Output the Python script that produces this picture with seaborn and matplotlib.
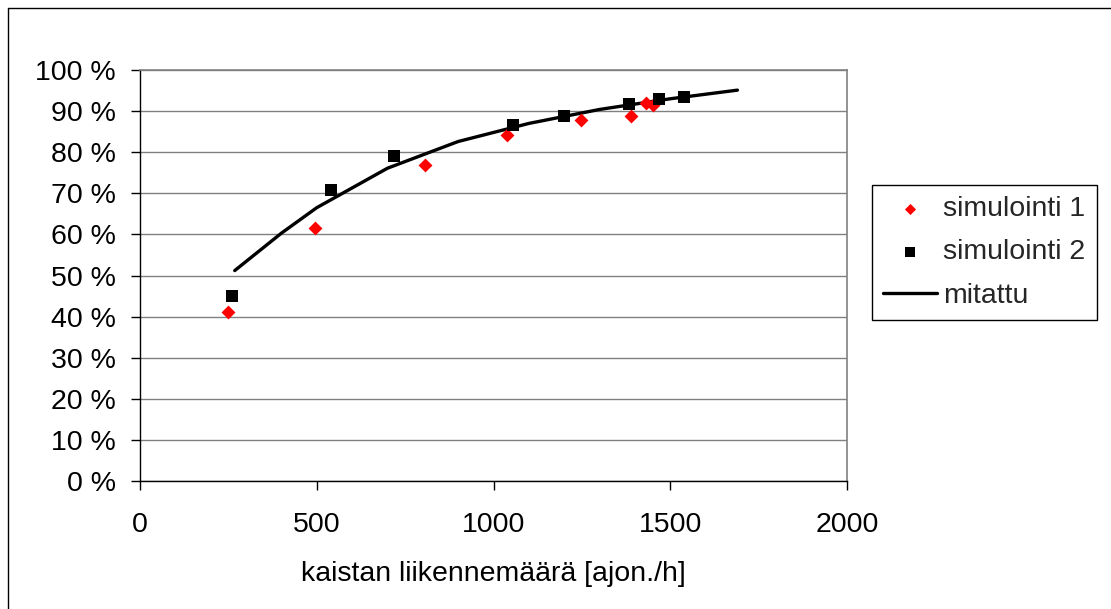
import matplotlib
matplotlib.use("Agg")
import matplotlib.pyplot as plt
from matplotlib.lines import Line2D
from matplotlib.ticker import FuncFormatter, MultipleLocator
import seaborn as sns
import pandas as pd

# ---- data ----
sim1_x = [248, 495, 805, 1037, 1248, 1390, 1431, 1451]
sim1_y = [41.0, 61.6, 77.0, 84.1, 87.8, 88.7, 92.0, 91.5]

sim2_x = [260, 540, 718, 1056, 1199, 1383, 1467, 1540]
sim2_y = [45.0, 70.8, 79.1, 86.7, 88.9, 91.7, 93.0, 93.5]

meas_x = [268, 400, 500, 700, 900, 1100, 1300, 1500, 1690]
meas_y = [51.2, 60.3, 66.5, 76.1, 82.6, 87.0, 90.4, 93.0, 95.1]

labels = ["simulointi 1", "simulointi 2", "mitattu"]
xlabel = "kaistan liikennemäärä [ajon./h]"

sns.set_style("white")
plt.rcParams["font.family"] = ["Liberation Sans", "DejaVu Sans"]

FS = 20.5
W, H = 1111, 609
fig = plt.figure(figsize=(W / 100, H / 100), dpi=100)
ax = fig.add_axes([140 / W, 1 - 481 / H, (847 - 140) / W, (481 - 70) / H])

df1 = pd.DataFrame({"x": sim1_x, "y": sim1_y})
df2 = pd.DataFrame({"x": sim2_x, "y": sim2_y})
dfm = pd.DataFrame({"x": meas_x, "y": meas_y})

sns.lineplot(data=dfm, x="x", y="y", ax=ax, color="black", lw=2.4,
             label=labels[2], zorder=3)
sns.scatterplot(data=df1, x="x", y="y", ax=ax, marker="D", s=50, color="#ff0000",
                linewidth=0, label=labels[0], zorder=4)
sns.scatterplot(data=df2, x="x", y="y", ax=ax, marker="s", s=70, color="black",
                linewidth=0, label=labels[1], zorder=5)

ax.set_xlim(0, 2000)
ax.set_ylim(0, 100)
ax.xaxis.set_major_locator(MultipleLocator(500))
ax.yaxis.set_major_locator(MultipleLocator(10))
ax.yaxis.set_major_formatter(FuncFormatter(lambda v, p: f"{int(round(v))} %"))

ax.grid(True, axis="y", color="#808080", lw=1.0)
ax.set_axisbelow(True)
for side in ["top", "right"]:
    ax.spines[side].set_color("#808080")
    ax.spines[side].set_linewidth(1.2)
for side in ["left", "bottom"]:
    ax.spines[side].set_color("black")
    ax.spines[side].set_linewidth(1.0)

ax.tick_params(axis="both", which="major", labelsize=FS, colors="black",
               direction="out", length=6.5, width=1.0, left=True, bottom=True)
ax.tick_params(axis="y", pad=11)
ax.tick_params(axis="x", pad=16)

ax.set_xlabel(xlabel, fontsize=FS, color="black")
ax.xaxis.set_label_coords(0.5, -0.195)
ax.set_ylabel("")

# legend in order sim1, sim2, measured
handles, labs = ax.get_legend_handles_labels()
order = [labs.index(l) for l in labels]
leg = ax.legend([handles[i] for i in order], [labs[i] for i in order],
                loc="upper left", bbox_to_anchor=(872 / W, 1 - 185 / H),
                bbox_transform=fig.transFigure, fontsize=FS, frameon=True,
                fancybox=False, shadow=False, framealpha=1, edgecolor="black",
                markerscale=0.8, handlelength=1.9, handletextpad=0.2,
                labelspacing=0.6, borderpad=0.4, borderaxespad=0)
leg.get_frame().set_linewidth(1.0)

# outer chart border (left and top)
fig.add_artist(Line2D([7.5 / W, 7.5 / W], [0, 1 - 7.5 / H], transform=fig.transFigure,
                      color="black", lw=1.0))
fig.add_artist(Line2D([7.5 / W, 1], [1 - 7.5 / H, 1 - 7.5 / H], transform=fig.transFigure,
                      color="black", lw=1.0))

fig.savefig("out.png", dpi=100, facecolor="white")
